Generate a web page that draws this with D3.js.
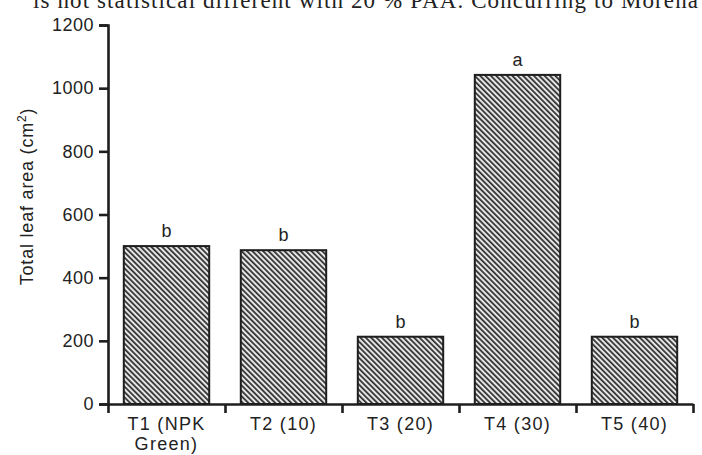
<!DOCTYPE html>
<html>
<head>
<meta charset="utf-8">
<script src="https://cdn.jsdelivr.net/npm/d3@7"></script>
<style>
  html, body { margin: 0; padding: 0; background: #fff; }
  svg { display: block; }
</style>
</head>
<body>
<svg id="chart" width="702" height="455"></svg>
<script>
// ---- data ----
const categories = ["T1 (NPK Green)", "T2 (10)", "T3 (20)", "T4 (30)", "T5 (40)"];
const categoryLines = [["T1 (NPK", "Green)"], ["T2 (10)"], ["T3 (20)"], ["T4 (30)"], ["T5 (40)"]];
const leafArea = [500, 487, 213, 1042, 213];
const letters = ["b", "b", "b", "a", "b"];
const yTicks = [0, 200, 400, 600, 800, 1000, 1200];
const yTitle = "Total leaf area (cm";
const topText = "is not statistical different with 20 % PAA. Concurring to Morena";

// ---- layout ----
const svg = d3.select("#chart");
const ink = "#1e1e1e";
const x0 = 108, x1 = 693, yBottom = 404, yTop = 25;

const y = d3.scaleLinear().domain([0, 1200]).range([yBottom, yTop]);
const x = d3.scaleBand().domain(categories).range([x0, x1]).padding(0);
const barFrac = 0.73;

// pattern
const defs = svg.append("defs");
const pat = defs.append("pattern")
  .attr("id", "hatch")
  .attr("patternUnits", "userSpaceOnUse")
  .attr("width", 3.8).attr("height", 3.8)
  .attr("patternTransform", "rotate(-45)");
pat.append("rect").attr("width", 3.8).attr("height", 3.8).attr("fill", "#e6e6e6");
pat.append("rect").attr("width", 1.7).attr("height", 3.8).attr("fill", "#2b2b2b");

// cropped text at top
svg.append("text")
  .attr("x", 33).attr("y", 8)
  .attr("font-family", "'Liberation Serif', 'Times New Roman', serif")
  .attr("font-size", 23)
  .attr("fill", "#222")
  .attr("textLength", 665).attr("lengthAdjust", "spacing")
  .text(topText);

// bars
const bw = x.bandwidth() * barFrac;
svg.append("g").selectAll("rect")
  .data(leafArea)
  .join("rect")
  .attr("x", (d, i) => x(categories[i]) + (x.bandwidth() - bw) / 2)
  .attr("y", d => y(d))
  .attr("width", bw)
  .attr("height", d => y(0) - y(d))
  .attr("fill", "url(#hatch)")
  .attr("stroke", ink)
  .attr("stroke-width", 2);

// letters
svg.append("g").selectAll("text")
  .data(leafArea)
  .join("text")
  .attr("x", (d, i) => x(categories[i]) + x.bandwidth() / 2)
  .attr("y", d => y(d) - 9)
  .attr("text-anchor", "middle")
  .attr("font-family", "'Liberation Sans', Arial, sans-serif")
  .attr("font-size", 18)
  .attr("fill", "#222")
  .text((d, i) => letters[i]);

// y axis
const yAxis = d3.axisLeft(y).tickValues(yTicks).tickSize(9).tickPadding(5).tickFormat(d3.format("d"));
const gy = svg.append("g").attr("transform", `translate(${x0},0)`).call(yAxis);
gy.select(".domain").attr("stroke", ink).attr("stroke-width", 2.6);
gy.selectAll(".tick line").attr("stroke", ink).attr("stroke-width", 2.6);
gy.selectAll(".tick text")
  .attr("font-family", "'Liberation Sans', Arial, sans-serif")
  .attr("font-size", 18).attr("fill", "#222")
  .attr("letter-spacing", "0.5px");

// x axis (ticks at band boundaries)
const boundaries = categories.map(c => x(c)).concat([x1]);
const xb = d3.scaleLinear().domain([x0, x1]).range([x0, x1]);
const xAxis = d3.axisBottom(xb).tickValues(boundaries).tickSize(9).tickSizeOuter(0).tickFormat("");
const gx = svg.append("g").attr("transform", `translate(0,${yBottom})`).call(xAxis);
gx.select(".domain").attr("stroke", ink).attr("stroke-width", 2.6);
gx.selectAll(".tick line").attr("stroke", ink).attr("stroke-width", 2.6);

// category labels
const labG = svg.append("g");
categoryLines.forEach((lines, i) => {
  const t = labG.append("text")
    .attr("x", x(categories[i]) + x.bandwidth() / 2)
    .attr("y", 430)
    .attr("text-anchor", "middle")
    .attr("font-family", "'Liberation Sans', Arial, sans-serif")
    .attr("font-size", 18).attr("fill", "#222")
    .attr("letter-spacing", "1.3px");
  lines.forEach((ln, j) => {
    t.append("tspan").attr("x", x(categories[i]) + x.bandwidth() / 2).attr("dy", j === 0 ? 0 : 19.5).text(ln);
  });
});

// y title
const yt = svg.append("text")
  .attr("transform", `translate(33,${(yTop + yBottom) / 2 - 18}) rotate(-90)`)
  .attr("text-anchor", "middle")
  .attr("font-family", "'Liberation Sans', Arial, sans-serif")
  .attr("font-size", 18).attr("fill", "#222")
  .attr("letter-spacing", "0.8px");
yt.append("tspan").text(yTitle);
yt.append("tspan").attr("font-size", 12).attr("dy", -7).text("2");
yt.append("tspan").attr("dy", 7).text(")");
</script>
</body>
</html>
